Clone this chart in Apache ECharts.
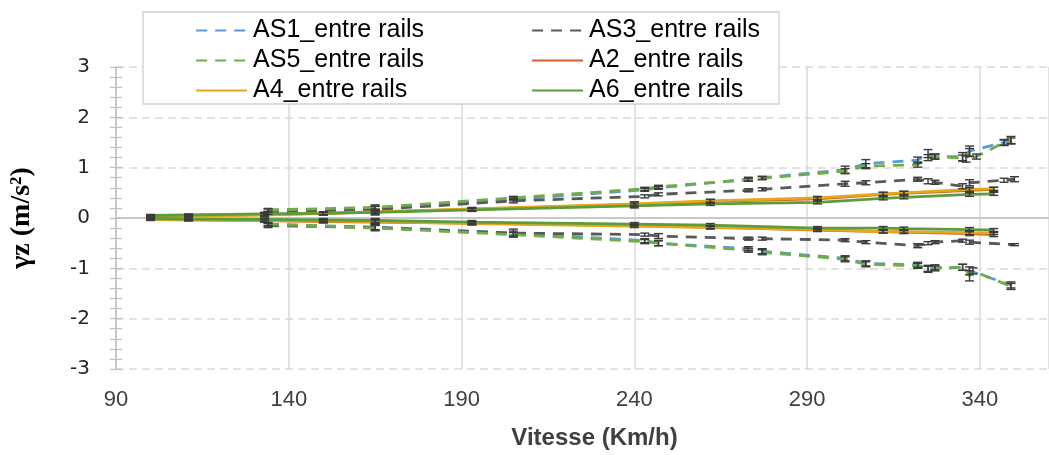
<!DOCTYPE html>
<html><head><meta charset="utf-8">
<script src="https://cdn.jsdelivr.net/npm/echarts@6/dist/echarts.min.js"></script>
<style>html,body{margin:0;padding:0;background:#fff}#c{width:1049px;height:455px}</style>
</head><body><div id="c"></div>
<script>
// Axis ticks
const xTicks = [90, 140, 190, 240, 290, 340];
const yTicks = [-3, -2, -1, 0, 1, 2, 3];
const seriesNames = ['AS1_entre rails','AS3_entre rails','AS5_entre rails','A2_entre rails','A4_entre rails','A6_entre rails'];

// Each point: [vitesse (km/h), γz (m/s²), error half-width]
const AS1_up = [[134,0.15,0.03],[165,0.19,0.05],[205,0.37,0.03],[243,0.56,0.03],[247,0.6,0.03],[273,0.77,0.04],[277,0.8,0.03],[301,0.96,0.07],[307,1.08,0.08],[322,1.15,0.06],[325,1.28,0.08],[327,1.22,0.05],[335,1.22,0.08],[337,1.33,0.1],[347,1.5,0.06],[349,1.55,0.07]];
const AS1_lo = [[134,-0.13,0.03],[165,-0.18,0.05],[205,-0.3,0.04],[243,-0.45,0.04],[247,-0.5,0.05],[273,-0.61,0.04],[277,-0.66,0.05],[301,-0.8,0.05],[307,-0.9,0.05],[322,-0.93,0.05],[325,-1.02,0.06],[327,-1.0,0.05],[335,-0.98,0.06],[337,-1.05,0.08],[349,-1.33,0.06]];
const AS3_up = [[134,0.1,0.03],[165,0.17,0.06],[205,0.34,0.04],[243,0.43,0.03],[247,0.47,0.03],[273,0.55,0.03],[277,0.57,0.03],[301,0.68,0.05],[307,0.7,0.04],[322,0.77,0.04],[325,0.73,0.05],[327,0.71,0.04],[335,0.63,0.05],[337,0.7,0.06],[347,0.75,0.04],[350,0.77,0.05]];
const AS3_lo = [[134,-0.15,0.04],[165,-0.19,0.06],[205,-0.3,0.08],[243,-0.33,0.03],[247,-0.36,0.05],[273,-0.41,0.03],[277,-0.41,0.03],[301,-0.44,0.03],[307,-0.48,0.03],[322,-0.55,0.04],[325,-0.5,0.03],[327,-0.48,0.03],[335,-0.45,0.03],[337,-0.48,0.04],[350,-0.53,0.02]];
const AS5_up = [[134,0.16,0.03],[165,0.21,0.05],[205,0.4,0.03],[243,0.58,0.03],[247,0.62,0.03],[273,0.76,0.03],[277,0.79,0.03],[301,0.93,0.05],[307,1.03,0.05],[322,1.06,0.05],[325,1.2,0.06],[327,1.22,0.05],[335,1.19,0.06],[337,1.3,0.08],[336,1.17,0.06],[339,1.22,0.05],[347,1.5,0.05],[349,1.53,0.06]];
const AS5_lo = [[134,-0.12,0.03],[165,-0.2,0.05],[205,-0.33,0.04],[243,-0.47,0.04],[247,-0.5,0.05],[273,-0.64,0.04],[277,-0.68,0.05],[301,-0.82,0.05],[307,-0.92,0.05],[322,-0.95,0.05],[325,-1.0,0.06],[327,-0.98,0.05],[335,-0.98,0.06],[337,-1.15,0.1],[338,-1.05,0.06],[349,-1.36,0.06]];
const A2_up = [[100,0.03,0.03],[111,0.05,0.02],[133,0.07,0.04],[150,0.09,0.03],[165,0.12,0.06],[193,0.17,0.03],[240,0.27,0.05],[262,0.33,0.04],[293,0.38,0.04],[312,0.47,0.04],[318,0.49,0.04],[337,0.55,0.05],[344,0.57,0.04]];
const A2_lo = [[100,-0.02,0.02],[111,-0.03,0.02],[133,-0.05,0.03],[150,-0.07,0.03],[165,-0.08,0.04],[193,-0.1,0.03],[240,-0.15,0.03],[262,-0.18,0.03],[293,-0.24,0.03],[312,-0.27,0.03],[318,-0.28,0.03],[337,-0.31,0.04],[344,-0.33,0.04]];
const A4_up = [[100,0.03,0.02],[111,0.04,0.02],[133,0.06,0.03],[150,0.09,0.03],[165,0.12,0.04],[193,0.18,0.03],[240,0.28,0.04],[262,0.34,0.03],[293,0.4,0.03],[312,0.48,0.03],[318,0.5,0.03],[337,0.57,0.04],[344,0.58,0.03]];
const A4_lo = [[100,-0.03,0.02],[111,-0.04,0.02],[133,-0.05,0.03],[150,-0.06,0.03],[165,-0.07,0.04],[193,-0.11,0.03],[240,-0.16,0.03],[262,-0.19,0.03],[293,-0.23,0.03],[312,-0.27,0.03],[318,-0.27,0.03],[337,-0.29,0.04],[344,-0.3,0.03]];
const A6_up = [[100,0.05,0.02],[111,0.06,0.02],[133,0.08,0.03],[150,0.09,0.03],[165,0.11,0.04],[193,0.16,0.03],[240,0.24,0.04],[262,0.28,0.03],[293,0.31,0.03],[312,0.39,0.03],[318,0.41,0.03],[337,0.47,0.04],[344,0.48,0.03]];
const A6_lo = [[100,-0.01,0.02],[111,-0.02,0.02],[133,-0.03,0.03],[150,-0.04,0.03],[165,-0.05,0.04],[193,-0.08,0.03],[240,-0.12,0.03],[262,-0.14,0.03],[293,-0.2,0.03],[312,-0.2,0.03],[318,-0.21,0.03],[337,-0.23,0.04],[344,-0.24,0.03]];

const styles = {
  'AS1_entre rails': {color:'#5B9BD5', type:[11,8]},
  'AS3_entre rails': {color:'#595959', type:[11,8]},
  'AS5_entre rails': {color:'#70AD47', type:[11,8]},
  'A2_entre rails':  {color:'#D0612A', type:'solid'},
  'A4_entre rails':  {color:'#E3A81B', type:'solid'},
  'A6_entre rails':  {color:'#5E9C3B', type:'solid'}
};
const branches = [
  ['AS1_entre rails', AS1_up], ['AS1_entre rails', AS1_lo],
  ['AS3_entre rails', AS3_up], ['AS3_entre rails', AS3_lo],
  ['AS5_entre rails', AS5_up], ['AS5_entre rails', AS5_lo],
  ['A2_entre rails', A2_up], ['A2_entre rails', A2_lo],
  ['A4_entre rails', A4_up], ['A4_entre rails', A4_lo],
  ['A6_entre rails', A6_up], ['A6_entre rails', A6_lo]
];

const series = [];
branches.forEach(([name, pts]) => {
  const st = styles[name];
  series.push({
    type:'line', name, data: pts.map(p => [p[0], p[1]]),
    symbol:'none', showSymbol:false, smooth:false, z:2,
    color: st.color,
    lineStyle:{color:st.color, width:2.8, type:st.type, cap:'butt'},
    emphasis:{disabled:true}, silent:true
  });
});
branches.forEach(([name, pts]) => {
  series.push({
    type:'custom', name: 'err', z:3, silent:true,
    data: pts.map(p => [p[0], p[1]-p[2], p[1]+p[2]]),
    encode:{x:0, y:[1,2]},
    renderItem(params, api){
      const lo = api.coord([api.value(0), api.value(1)]);
      const hi = api.coord([api.value(0), api.value(2)]);
      const w = 4.5, s = {stroke:'#3a3a3a', lineWidth:1.4};
      return {type:'group', children:[
        {type:'line', shape:{x1:lo[0],y1:lo[1],x2:hi[0],y2:hi[1]}, style:s},
        {type:'line', shape:{x1:lo[0]-w,y1:lo[1],x2:lo[0]+w,y2:lo[1]}, style:s},
        {type:'line', shape:{x1:hi[0]-w,y1:hi[1],x2:hi[0]+w,y2:hi[1]}, style:s}
      ]};
    }
  });
});

const chart = echarts.init(document.getElementById('c'), null, {renderer:'canvas'});
const legendText = {fontSize:25, color:'#000', fontFamily:'Liberation Sans', lineHeight:24, padding:[0,0,0,1]};
const legendBase = {orient:'vertical', top:13, z:60,
  itemWidth:51, itemHeight:14, itemGap:5, selectedMode:false, textStyle:legendText,
  lineStyle:{width:2.2}, itemStyle:{color:'rgba(0,0,0,0)', borderWidth:0, opacity:0}};
chart.setOption({
  animation:false,
  backgroundColor:'#fff',
  grid:{left:116, top:67, height:304, right:-14, containLabel:false},
  xAxis:[{
    type:'value', min:xTicks[0], max:360, interval:xTicks[1]-xTicks[0], position:'bottom',
    axisLine:{show:false, onZero:false}, axisTick:{show:false},
    splitLine:{show:true, lineStyle:{color:'#D9D9D9', width:1.5}},
    axisLabel:{fontSize:22, color:'#404040', margin:20, showMaxLabel:false, fontFamily:'Liberation Sans'},
    name:'Vitesse (Km/h)', nameLocation:'middle', nameGap:57,
    nameTextStyle:{fontSize:24, fontWeight:'bold', color:'#404040', fontFamily:'Liberation Sans', padding:[0,0,0,24]}
  },{
    type:'value', min:xTicks[0], max:360, interval:50,
    axisLine:{show:true, onZero:true, lineStyle:{color:'#C8C8C8', width:2}},
    axisTick:{show:false}, axisLabel:{show:false}, splitLine:{show:false}
  }],
  yAxis:[{
    type:'value', min:yTicks[0], max:yTicks[yTicks.length-1], interval:1,
    axisLine:{show:true, onZero:false, lineStyle:{color:'#BFBFBF', width:1.5}},
    axisTick:{show:true, length:6, lineStyle:{color:'#BFBFBF', width:1.2}},
    minorTick:{show:true, splitNumber:5, length:6, lineStyle:{color:'#BFBFBF', width:1.2}},
    splitLine:{show:true, lineStyle:{color:'#D9D9D9', width:1.5, type:[8,5]}},
    axisLabel:{fontSize:20, color:'#262626', margin:26, fontFamily:'DejaVu Sans'},
    name:'γz (m/s²)', nameLocation:'middle', nameGap:80, nameRotate:90,
    nameTextStyle:{fontSize:28, fontWeight:'bold', color:'#000', fontFamily:'Liberation Serif'}
  },{
    type:'value', min:-3, max:3, interval:1, position:'left',
    axisLine:{show:false}, axisLabel:{show:false}, splitLine:{show:false},
    axisTick:{show:true, inside:true, length:6, lineStyle:{color:'#BFBFBF', width:1.2}},
    minorTick:{show:true, splitNumber:5, length:6, lineStyle:{color:'#BFBFBF', width:1.2}}
  }],
  graphic:[{type:'rect', z:50, shape:{x:143, y:12, width:636, height:92}, style:{fill:'#fff', stroke:'#D0D0D0', lineWidth:1.3}}],
  legend:[
    Object.assign({data:[seriesNames[0], seriesNames[2], seriesNames[4]], left:190}, legendBase),
    Object.assign({data:[seriesNames[1], seriesNames[3], seriesNames[5]], left:526}, legendBase)
  ],
  series
});
</script></body></html>
